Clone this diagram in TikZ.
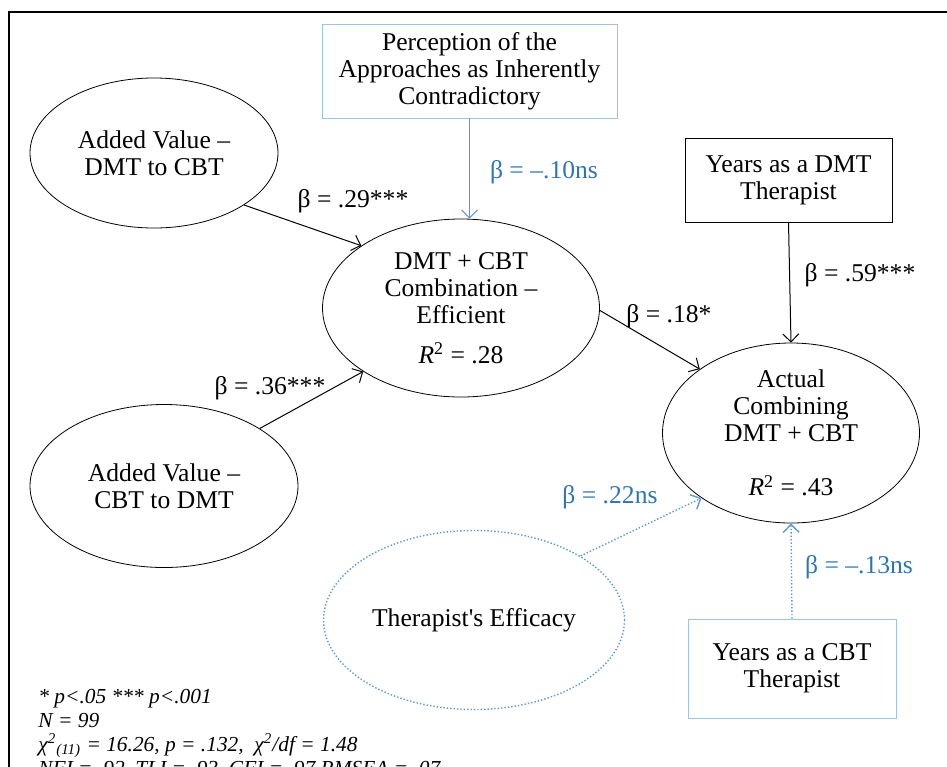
\documentclass[tikz,border=0pt]{standalone}
\usepackage{fontspec}
\setmainfont{Liberation Serif}
\usepackage{tikz}
\usetikzlibrary{shapes,arrows,arrows.meta,positioning,calc}
\definecolor{nsblue}{HTML}{2E75B6}
\definecolor{boxblue}{HTML}{9DC3E6}
\definecolor{lineblue}{HTML}{5B9BD5}

\begin{document}
\begin{tikzpicture}[x=0.5pt, y=-0.5pt,
        >={Straight Barb[length=4pt,width=8pt]},
        every node/.style={font=\fontsize{12.8}{13.5}\selectfont},
        latent/.style={ellipse, draw, inner sep=0pt, align=center},
        observed/.style={rectangle, draw, inner sep=0pt, align=center},
        coef/.style={inner sep=1pt},
        nscoef/.style={coef, text=nsblue},
        sigpath/.style={->, line width=0.5pt},
        nspath/.style={->, lineblue, densely dotted, line width=0.7pt}]
        \clip (0,0) rectangle (947,766);
        \draw[line width=1pt] (9,800) -- (9,12) -- (1000,12);

        % latent variables
        \node (a1) [latent, minimum width=124pt, minimum height=75pt] at (154,153) {Added Value –\\DMT to CBT};
        \node (a2) [latent, minimum width=134pt, minimum height=81.5pt] at (164,486) {Added Value –\\CBT to DMT};
        \node (comb) [latent, minimum width=138.5pt, minimum height=89pt] at (461,308) {DMT + CBT\\Combination –\\Efficient\\[6.5pt]\textit{R}\textsuperscript{2} = .28};
        \node (act) [latent, minimum width=128.5pt, minimum height=90pt] at (791,433) {Actual\\Combining\\DMT + CBT\\[13.5pt]\textit{R}\textsuperscript{2} = .43};
        \node (eff) [latent, draw=lineblue, densely dotted, line width=0.7pt, minimum width=150.5pt, minimum height=89.5pt] at (474,620) {Therapist\textquotesingle s Efficacy};

        % observed variables
        \node (perc) [observed, draw=boxblue, minimum width=147.5pt, minimum height=47pt] at (469.5,71) {Perception of the\\Approaches as Inherently\\Contradictory};
        \node (ydmt) [observed, minimum width=103.5pt, minimum height=42pt] at (788.5,180) {Years as a DMT\\Therapist};
        \node (ycbt) [observed, draw=boxblue, minimum width=104pt, minimum height=49.5pt] at (792,668.5) {Years as a CBT\\Therapist};

        % paths
        \draw[sigpath] (a1.-30) -- (comb.148);
        \draw[sigpath] (a2.31) -- (comb.213);
        \draw[->, lineblue, line width=0.5pt] (perc.south) -- (perc.south |- comb.north);
        \draw[sigpath] (comb.-1) -- (act.145);
        \draw[sigpath] (ydmt.south) -- (act.north);
        \draw[nspath] (eff.31) -- (act.216);
        \draw[nspath] (ycbt.north) -- (act.south);

        % coefficients
        \node (b29) [coef] at (353,201) {β = .29***};
        \node (b36) [coef] at (270,388) {β = .36***};
        \node (b10) [nscoef] at (544,172) {β = –.10ns};
        \node (b18) [coef] at (669,316) {β = .18*};
        \node (b59) [coef] at (860,275) {β = .59***};
        \node (b22) [nscoef] at (610,497) {β = .22ns};
        \node (b13) [nscoef] at (859,567) {β = –.13ns};

        % fit indices
        \node (fit) [anchor=north west, inner sep=0pt, align=left, font=\itshape\fontsize{10.7}{12}\selectfont] at (38,689)
            {* p<.05 *** p<.001\\N = 99\\χ\textsuperscript{2}\textsubscript{(11)} = 16.26, p = .132,\ \ χ\textsuperscript{2}/df = 1.48\\NFI = .92, TLI = .93, CFI = .97 RMSEA = .07};
\end{tikzpicture}
\end{document}
